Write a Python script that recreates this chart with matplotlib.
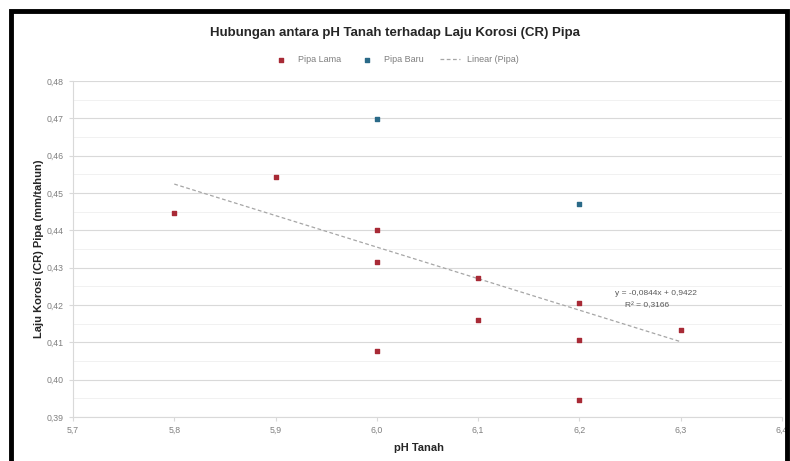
import matplotlib
matplotlib.use("Agg")
import matplotlib.pyplot as plt
from matplotlib.ticker import FuncFormatter, MultipleLocator
from matplotlib.patches import Rectangle
import numpy as np

plt.rcParams['font.family'] = ['Liberation Sans', 'DejaVu Sans']

# data
ph_lama = [5.8, 5.9, 6.0, 6.0, 6.0, 6.1, 6.1, 6.2, 6.2, 6.2, 6.3]
cr_lama = [0.4446, 0.4543, 0.4401, 0.4315, 0.4077, 0.4272, 0.4160, 0.4205, 0.4106, 0.3945, 0.4133]
ph_baru = [6.0, 6.2]
cr_baru = [0.4698, 0.4470]

title = "Hubungan antara pH Tanah terhadap Laju Korosi (CR) Pipa"
xlabel = "pH Tanah"
ylabel = "Laju Korosi (CR) Pipa (mm/tahun)"
label_lama = "Pipa Lama"
label_baru = "Pipa Baru"
label_trend = "Linear (Pipa)"

def koma(v, dec):
    return f"{v:.{dec}f}".replace(".", ",")

# linear trend over all points
x_all = np.array(ph_lama + ph_baru)
y_all = np.array(cr_lama + cr_baru)
slope, intercept = np.polyfit(x_all, y_all, 1)
r2 = np.corrcoef(x_all, y_all)[0, 1] ** 2
xt = np.array([x_all.min(), x_all.max()])
yt = slope * xt + intercept

fig = plt.figure(figsize=(7.9, 4.61), dpi=100)
ax = fig.add_axes([0.0924, 0.0954, 0.8975, 0.7289])

ax.scatter(ph_lama, cr_lama, marker='s', s=10, color='#a82a36', label=label_lama, zorder=3)
ax.scatter(ph_baru, cr_baru, marker='s', s=10, color='#2a6a88', label=label_baru, zorder=3)
ax.plot(xt, yt, ls=(0, (3, 2)), lw=0.9, color='#a6a6a6', label=label_trend, zorder=2)

ax.set_xlim(5.7, 6.4)
ax.set_ylim(0.39, 0.48)
ax.xaxis.set_major_locator(MultipleLocator(0.1))
ax.yaxis.set_major_locator(MultipleLocator(0.01))
ax.yaxis.set_minor_locator(MultipleLocator(0.005))
ax.xaxis.set_major_formatter(FuncFormatter(lambda v, p: koma(v, 1)))
ax.yaxis.set_major_formatter(FuncFormatter(lambda v, p: koma(v, 2)))

ax.grid(axis='y', which='major', color='#d9d9d9', lw=0.8)
ax.grid(axis='y', which='minor', color='#efefef', lw=0.6)
ax.set_axisbelow(True)
for s in ['top', 'right']:
    ax.spines[s].set_visible(False)
for s in ['left', 'bottom']:
    ax.spines[s].set_color('#d9d9d9')
ax.tick_params(axis='both', which='both', colors='#d9d9d9', labelcolor='#7f7f7f', labelsize=6.3, length=3)
ax.tick_params(axis='y', which='minor', length=0)

ax.text(6.235, 0.4227, f"y = {koma(slope, 4)}x + {koma(intercept, 4)}", fontsize=6, color='#595959')
ax.text(6.245, 0.4195, f"R² = {koma(r2, 4)}", fontsize=6, color='#595959')

fig.text(0.5, 0.928, title, ha='center', va='center', fontsize=9.5, fontweight='bold', color='#262626')
fig.text(0.53, 0.028, xlabel, ha='center', va='center', fontsize=8, fontweight='bold', color='#262626')
fig.text(0.049, 0.46, ylabel, ha='center', va='center', rotation=90, fontsize=8, fontweight='bold', color='#262626')

fig.legend(loc='center', bbox_to_anchor=(0.5, 0.87), ncol=3, frameon=False, fontsize=6.5,
           labelcolor='#7f7f7f', handlelength=2.2, columnspacing=1.8, scatterpoints=1)

fig.patches.append(Rectangle((11 / 790, -0.05), 776 / 790, 1 - 11 / 461 + 0.05, transform=fig.transFigure,
                             fill=False, edgecolor='black', lw=3.5, zorder=10))

fig.savefig("out.png", dpi=100)
